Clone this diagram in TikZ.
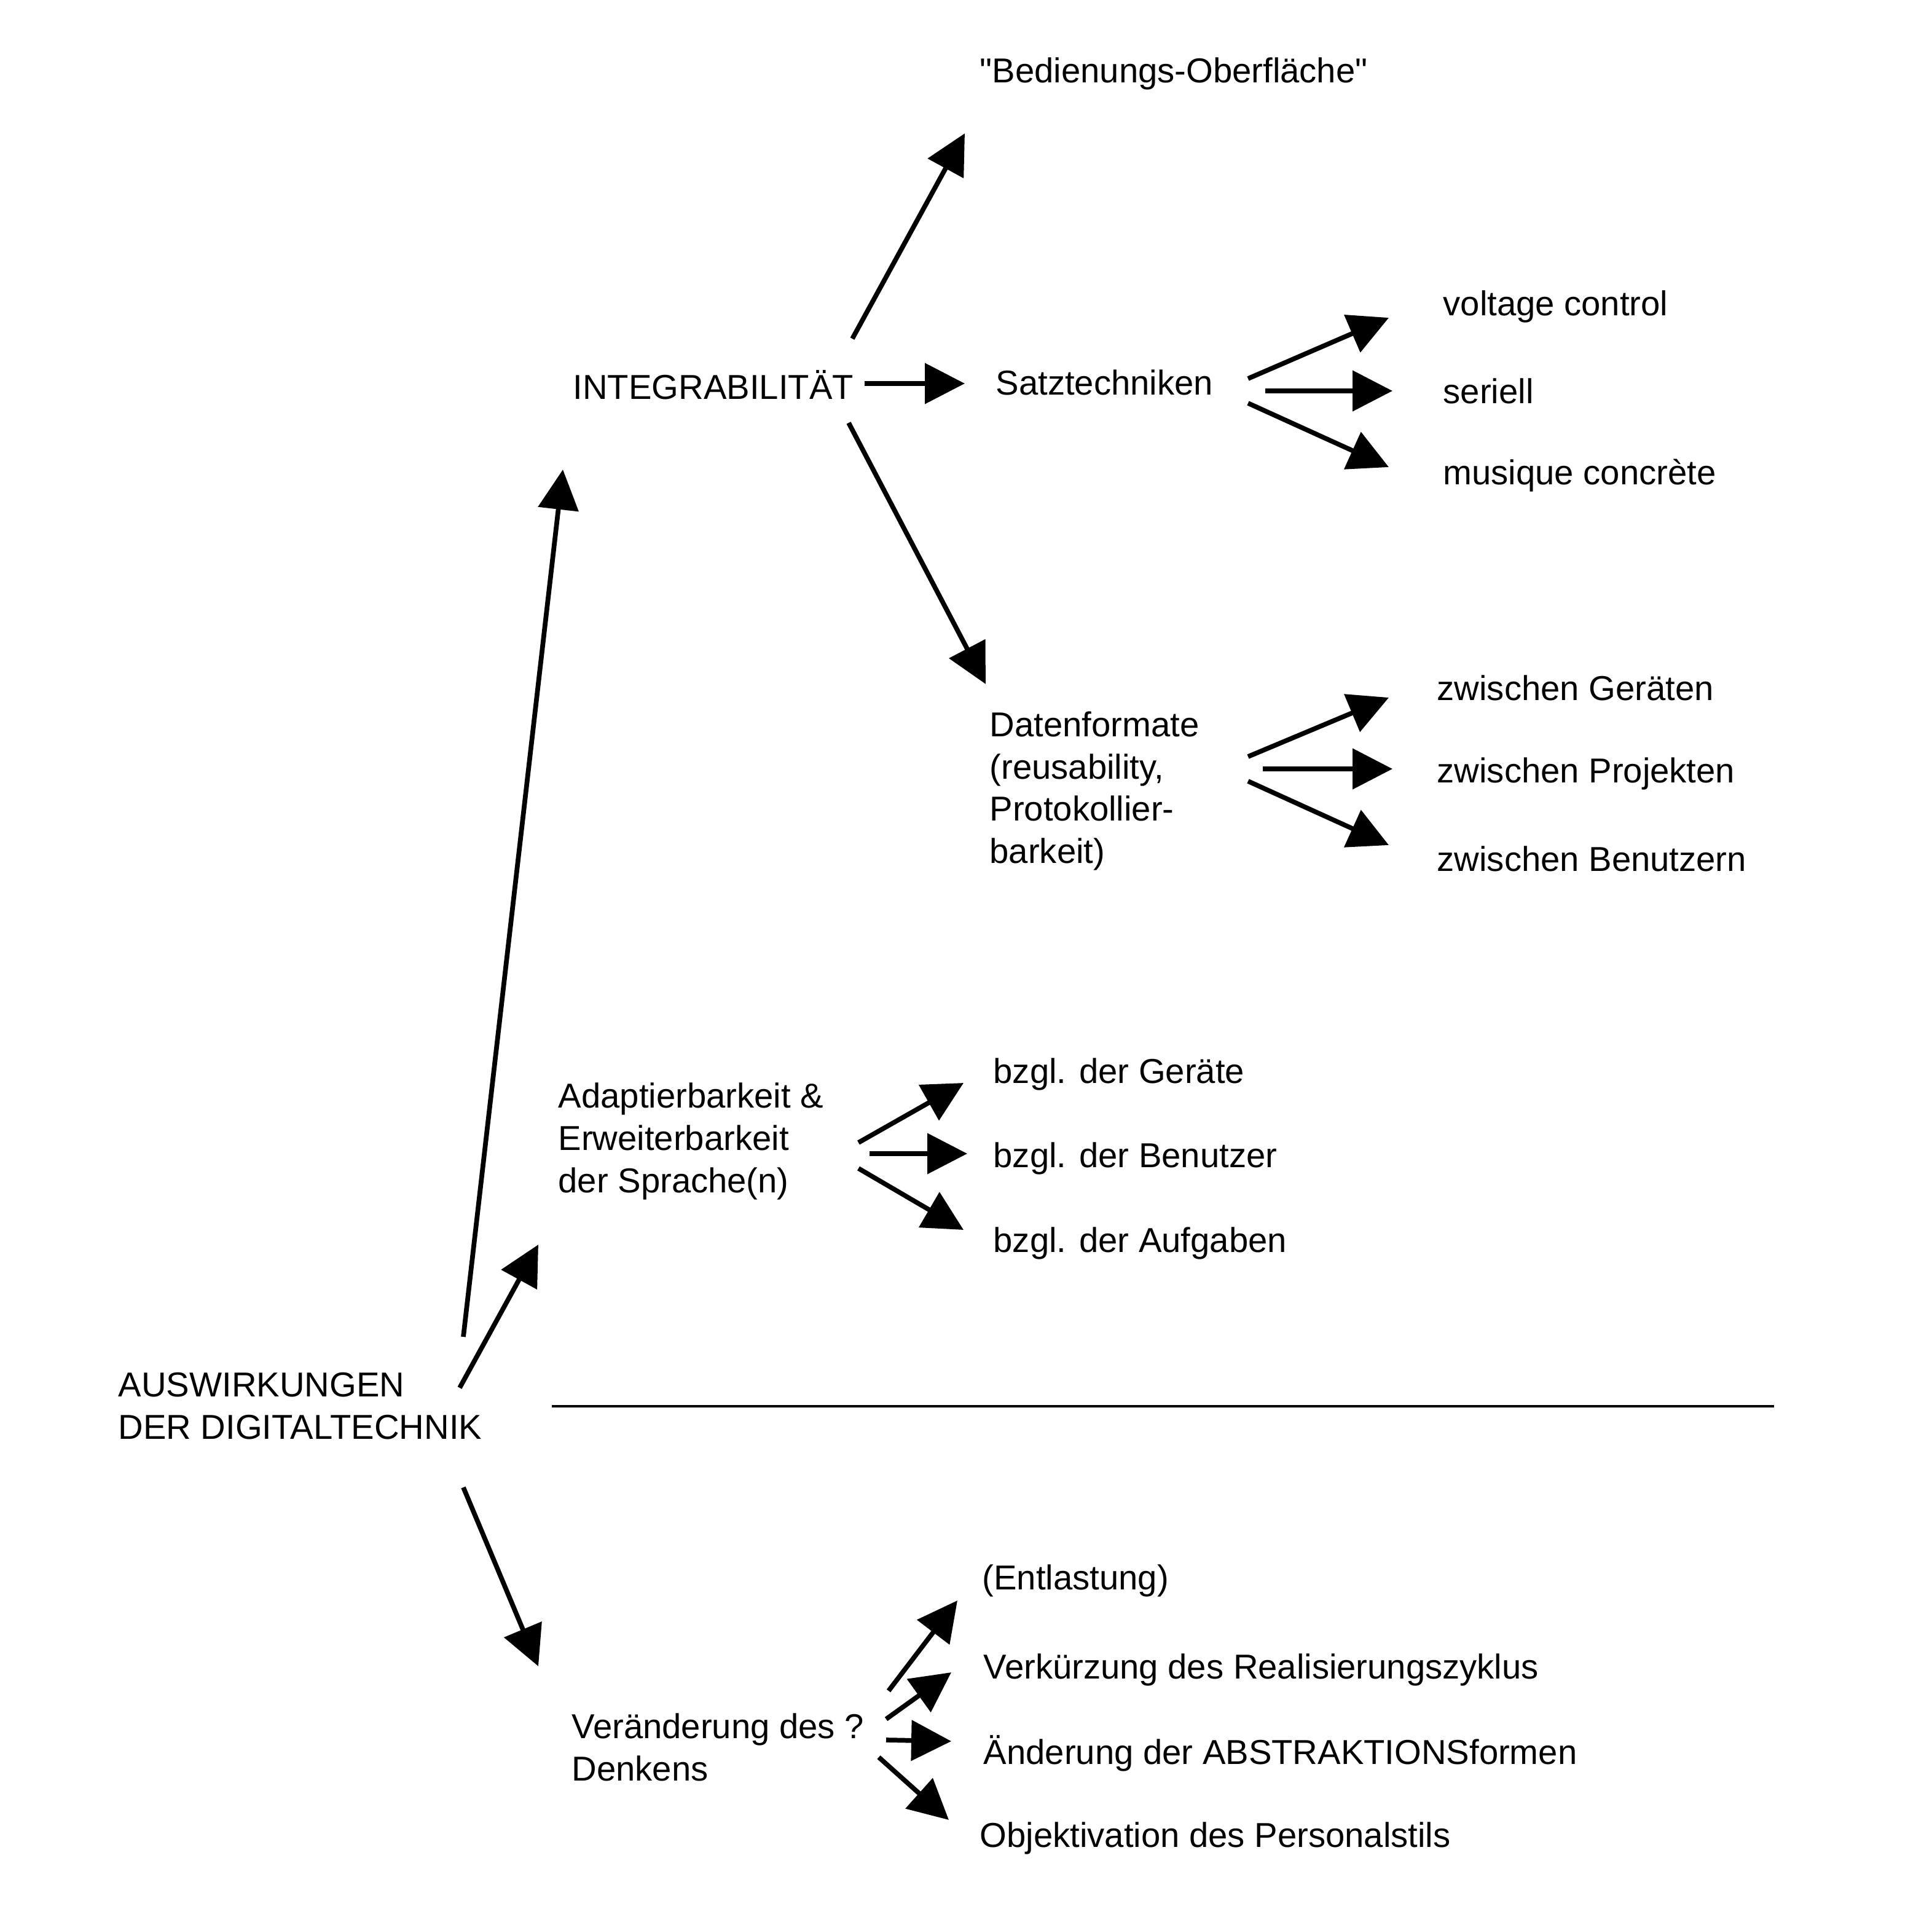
\documentclass[tikz,border=0pt]{standalone}
\usepackage{fontspec}
\setmainfont{Liberation Sans}
\usepackage{tikz}
\usetikzlibrary{arrows.meta}

\begin{document}
\begin{tikzpicture}[
  font=\fontsize{16}{19.6}\selectfont,
  lbl/.style={anchor=west, inner sep=0pt, align=left},
  arr/.style={-{Triangle[length=6.5mm, width=6.5mm]}, line width=2.2pt},
  sep/.style={line width=0.9pt},
]
\useasboundingbox[fill=white] (0,0) rectangle (31.44,-31.18);

\node[lbl] (ausw)    at (1.92,-22.88)  {AUSWIRKUNGEN\\DER DIGITALTECHNIK};
\node[lbl] (integ)   at (9.32,-6.26)   {INTEGRABILITÄT};
\node[lbl] (adapt)   at (9.08,-18.57)  {Adaptierbarkeit \&\\Erweiterbarkeit\\der Sprache(n)};
\node[lbl] (veraend) at (9.30,-28.43)  {Veränderung des ?\\Denkens};

\node[lbl] (bedien)  at (15.94,-1.20)  {\textquotedbl Bedienungs-Oberfläche\textquotedbl};
\node[lbl] (satz)    at (16.20,-6.22)  {Satztechniken};
\node[lbl] (daten)   at (16.10,-12.87) {Datenformate\\(reusability,\\Protokollier-\\barkeit)};

\node[lbl] (volt)    at (23.48,-4.99)  {voltage control};
\node[lbl] (seriell) at (23.48,-6.36)  {seriell};
\node[lbl] (musique) at (23.48,-7.74)  {musique concrète};

\node[lbl] (zger)    at (23.38,-11.19) {zwischen Geräten};
\node[lbl] (zproj)   at (23.38,-12.59) {zwischen Projekten};
\node[lbl] (zben)    at (23.38,-13.97) {zwischen Benutzern};

\node[lbl] (bger)    at (16.16,-17.48) {bzgl. der Geräte};
\node[lbl] (bben)    at (16.16,-18.85) {bzgl. der Benutzer};
\node[lbl] (bauf)    at (16.16,-20.23) {bzgl. der Aufgaben};

\node[lbl] (entl)    at (15.98,-25.72) {(Entlastung)};
\node[lbl] (verk)    at (16.00,-27.17) {Verkürzung des Realisierungszyklus};
\node[lbl] (aend)    at (16.00,-28.53) {Änderung der ABSTRAKTIONSformen};
\node[lbl] (objekt)  at (15.94,-29.91) {Objektivation des Personalstils};

\coordinate (sepL) at (8.98,-22.88);
\coordinate (sepR) at (28.87,-22.88);
\draw[sep] (sepL) -- (sepR);

\draw[arr] ([shift={(5.62,1.13)}]ausw.west)   -- ([shift={(-0.16,-1.38)}]integ.west);
\draw[arr] ([shift={(5.56,0.30)}]ausw.west)   -- ([shift={(-0.32,-1.68)}]adapt.west);
\draw[arr] ([shift={(5.62,-1.32)}]ausw.west)  -- ([shift={(-0.54,1.32)}]veraend.west);

\draw[arr] ([shift={(4.55,0.75)}]integ.west)  -- ([shift={(-0.24,-0.97)}]bedien.west);
\draw[arr] ([shift={(4.75,0.02)}]integ.west)  -- ([shift={(-0.50,-0.02)}]satz.west);
\draw[arr] ([shift={(4.49,-0.62)}]integ.west) -- ([shift={(-0.06,1.74)}]daten.west);

\draw[arr] ([shift={(4.11,0.06)}]satz.west)   -- ([shift={(-0.88,-0.18)}]volt.west);
\draw[arr] ([shift={(4.39,-0.14)}]satz.west)  -- ([shift={(-0.82,0)}]seriell.west);
\draw[arr] ([shift={(4.11,-0.34)}]satz.west)  -- ([shift={(-0.88,0.14)}]musique.west);

\draw[arr] ([shift={(4.21,0.56)}]daten.west)  -- ([shift={(-0.78,-0.16)}]zger.west);
\draw[arr] ([shift={(4.45,0.36)}]daten.west)  -- ([shift={(-0.72,0.08)}]zproj.west);
\draw[arr] ([shift={(4.21,0.16)}]daten.west)  -- ([shift={(-0.78,0.22)}]zben.west);

\draw[arr] ([shift={(4.89,-0.02)}]adapt.west) -- ([shift={(-0.48,-0.14)}]bger.west);
\draw[arr] ([shift={(5.07,-0.20)}]adapt.west) -- ([shift={(-0.42,0.08)}]bben.west);
\draw[arr] ([shift={(4.89,-0.44)}]adapt.west) -- ([shift={(-0.48,0.22)}]bauf.west);

\draw[arr] ([shift={(5.16,0.92)}]veraend.west)  -- ([shift={(-0.40,-0.32)}]entl.west);
\draw[arr] ([shift={(5.12,0.46)}]veraend.west)  -- ([shift={(-0.52,-0.04)}]verk.west);
\draw[arr] ([shift={(5.12,0.12)}]veraend.west)  -- ([shift={(-0.52,0.20)}]aend.west);
\draw[arr] ([shift={(5.00,-0.16)}]veraend.west) -- ([shift={(-0.50,0.30)}]objekt.west);
\end{tikzpicture}
\end{document}
